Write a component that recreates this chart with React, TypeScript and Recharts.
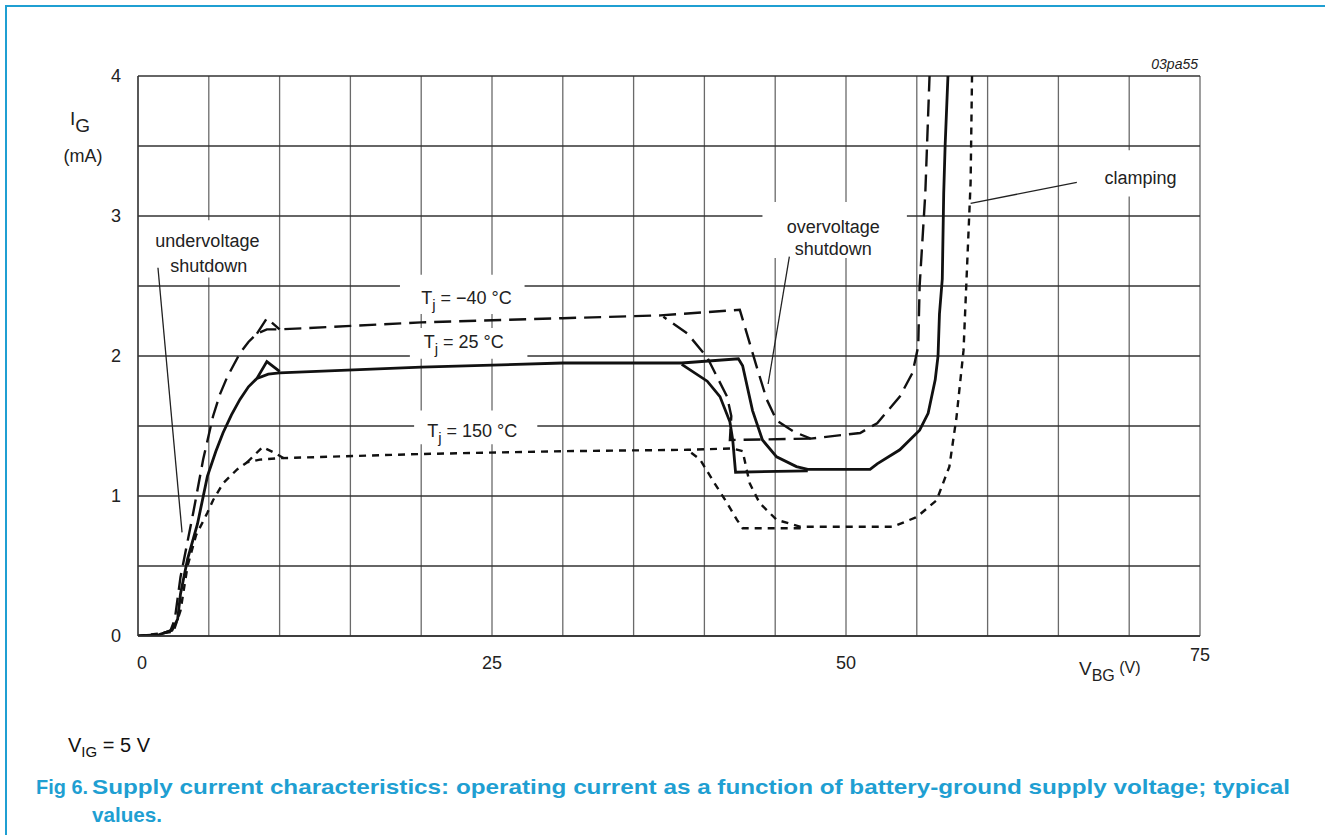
import React from 'react';
import {
  LineChart, Line, XAxis, YAxis, CartesianGrid, ReferenceArea, ReferenceLine, ReferenceDot,
} from 'recharts';

// [V_BG (V), I_G (mA)]
const t25Main = [
  [0, 0], [1.5, 0.01], [2.4, 0.04], [2.8, 0.12], [3.0, 0.3], [3.5, 0.55], [4.2, 0.8], [4.9, 1.14],
  [5.5, 1.32], [6.0, 1.45], [6.6, 1.58], [7.2, 1.69], [7.8, 1.78], [8.4, 1.84], [9.2, 1.87], [10, 1.88],
  [20, 1.92], [30, 1.95], [38.4, 1.95], [42.4, 1.98], [42.7, 1.93], [43.4, 1.61], [44.1, 1.4],
  [45.1, 1.28], [46.5, 1.21], [47.3, 1.19], [51.7, 1.19], [52.2, 1.23], [53.8, 1.33], [55.2, 1.47],
  [55.8, 1.59], [56.3, 1.83], [56.5, 2.0], [56.6, 2.3], [56.8, 2.55], [56.9, 3.16], [57.0, 3.5], [57.2, 4.0],
];
const t25Back = [[47.3, 1.18], [42.2, 1.17], [42.0, 1.4], [41.8, 1.53], [41.1, 1.71], [40.2, 1.82], [38.4, 1.94]];
const t25Peak = [[8.4, 1.84], [9.1, 1.96], [10, 1.89]];

const tm40Main = [
  [0, 0], [1.5, 0.01], [2.3, 0.04], [2.6, 0.12], [3.0, 0.42], [3.9, 0.88], [4.6, 1.26], [5.3, 1.57],
  [5.8, 1.73], [6.3, 1.85], [7.2, 2.02], [7.8, 2.1], [8.4, 2.16], [9.1, 2.19], [10, 2.19], [20, 2.24],
  [30, 2.27], [36.9, 2.29], [42.5, 2.33], [43.0, 2.16], [43.7, 1.92], [44.4, 1.69], [45.1, 1.54],
  [46.3, 1.46], [47.5, 1.41], [51.0, 1.45], [52.2, 1.52], [53.8, 1.71], [54.7, 1.88], [55.1, 2.07],
  [55.2, 2.5], [55.6, 3.16], [55.9, 4.0],
];
const tm40Back = [[47.5, 1.41], [41.8, 1.4], [41.9, 1.57], [41.6, 1.71], [40.2, 1.99], [38.8, 2.16], [37.1, 2.28]];
const tm40Peak = [[8.4, 2.16], [9.1, 2.27], [10, 2.19]];

const t150Main = [
  [0, 0], [2.5, 0.03], [3.0, 0.18], [3.5, 0.5], [4.1, 0.72], [4.9, 0.88], [5.3, 0.97], [6.0, 1.09],
  [7.0, 1.19], [7.7, 1.24], [8.6, 1.26], [10, 1.27], [20, 1.3], [30, 1.32], [38.8, 1.33],
  [42.0, 1.34], [42.7, 1.32], [43.2, 1.09], [43.9, 0.95], [45.1, 0.83], [46.8, 0.78], [53.3, 0.78],
  [55.0, 0.85], [56.4, 0.97], [57.3, 1.21], [57.8, 1.56], [58.3, 2.04], [58.5, 2.52], [58.8, 3.24],
  [58.9, 4.0],
];
const t150Back = [[46.8, 0.77], [42.7, 0.77], [42.3, 0.83], [41.6, 0.95], [40.6, 1.11], [39.7, 1.26], [38.8, 1.33]];
const t150Peak = [[7.7, 1.24], [8.8, 1.35], [9.6, 1.31], [10.3, 1.27]];

const xTicks = [0, 5, 10, 15, 20, 25, 30, 35, 40, 45, 50, 55, 60, 65, 70, 75];
const xLabels = [0, 25, 50, 75];
const yTicks = [0, 0.5, 1, 1.5, 2, 2.5, 3, 3.5, 4];
const yLabels = [0, 1, 2, 3, 4];

const pts = (a: number[][]) => a.map(([v, i]) => ({ v, i }));

const FONT = '"Liberation Sans", Arial, Helvetica, sans-serif';
const INK = '#222';
const TEAL = '#1f9fd2';

const XTick = (p: any) => {
  const val = p.payload.value;
  if (!xLabels.includes(val)) return null;
  const dy = val === 75 ? 23 : 31;
  const dx = val === 0 ? 4 : 0;
  return (
    <text x={p.x + dx} y={p.y + dy} textAnchor="middle" fontSize={18} fill={INK} fontFamily={FONT}>{val}</text>
  );
};

const YTick = (p: any) => {
  const val = p.payload.value;
  if (!yLabels.includes(val)) return null;
  return (
    <text x={p.x - 15} y={p.y} dy="0.35em" textAnchor="end" fontSize={18} fill={INK} fontFamily={FONT}>{val}</text>
  );
};

// text placed at a data point
const textAt = (content: React.ReactNode, anchor = 'middle') => (p: any) => (
  <text x={p.cx} y={p.cy} textAnchor={anchor} fontSize={18} fill={INK} fontFamily={FONT}>{content}</text>
);

const tj = (rest: string) => (
  <>
    <tspan>T</tspan>
    <tspan dy={6} fontSize={15}>j</tspan>
    <tspan dy={-6}>{rest}</tspan>
  </>
);

const boxes = [
  { x1: 1, x2: 9, y1: 2.56, y2: 2.97 },
  { x1: 18.5, x2: 27.3, y1: 2.3, y2: 2.58 },
  { x1: 19.2, x2: 27.5, y1: 1.98, y2: 2.2 },
  { x1: 19.5, x2: 28.2, y1: 1.37, y2: 1.61 },
  { x1: 44.1, x2: 54.3, y1: 2.7, y2: 3.1 },
  { x1: 67.2, x2: 74.3, y1: 3.14, y2: 3.47 },
];

const leaders = [
  [[1.41, 2.63], [3.11, 0.74]],
  [[46.0, 2.71], [44.5, 1.8]],
  [[66.3, 3.24], [58.8, 3.09]],
];

export default function App() {
  const solid = { stroke: '#111', strokeWidth: 2.8, dot: false, isAnimationActive: false, type: 'linear' as const };
  const dashed = { ...solid, strokeWidth: 2.4, strokeDasharray: '17 8' };
  const dotted = { ...solid, strokeWidth: 2.4, strokeDasharray: '7 6' };

  return (
    <div style={{ position: 'absolute', left: 0, top: 0, width: 1325, height: 835, background: '#fff', fontFamily: FONT, overflow: 'hidden' }}>
      <div style={{ position: 'absolute', left: 5, top: 5, width: 1325, height: 835, borderTop: `2px solid ${TEAL}`, borderLeft: `2px solid ${TEAL}` }} />
      <LineChart width={1325} height={835} margin={{ top: 76, right: 125, bottom: 169, left: 78 }} style={{ position: 'absolute', left: 0, top: 0 }}>
        <CartesianGrid horizontal={false} stroke="#6a6a6a" strokeWidth={1.3} />
        <CartesianGrid vertical={false} stroke="#333" strokeWidth={1.3} />
        {boxes.map((b, k) => (
          <ReferenceArea key={k} x1={b.x1} x2={b.x2} y1={b.y1} y2={b.y2} fill="#fff" fillOpacity={1} stroke="none" ifOverflow="visible" />
        ))}
        <XAxis type="number" dataKey="v" domain={[0, 75]} ticks={xTicks} tick={<XTick />} tickLine={false} tickSize={0} axisLine={{ stroke: '#333', strokeWidth: 1.5 }} height={30} allowDataOverflow />
        <YAxis type="number" dataKey="i" domain={[0, 4]} ticks={yTicks} tick={<YTick />} tickLine={false} tickSize={0} axisLine={{ stroke: '#333', strokeWidth: 1.3 }} width={60} allowDataOverflow />
        <Line data={pts(tm40Main)} dataKey="i" {...dashed} />
        <Line data={pts(tm40Back)} dataKey="i" {...dashed} />
        <Line data={pts(tm40Peak)} dataKey="i" {...dashed} />
        <Line data={pts(t25Main)} dataKey="i" {...solid} />
        <Line data={pts(t25Back)} dataKey="i" {...solid} />
        <Line data={pts(t25Peak)} dataKey="i" {...solid} />
        <Line data={pts(t150Main)} dataKey="i" {...dotted} />
        <Line data={pts(t150Back)} dataKey="i" {...dotted} />
        <Line data={pts(t150Peak)} dataKey="i" {...dotted} />
        {leaders.map((s, k) => (
          <ReferenceLine key={k} segment={[{ x: s[0][0], y: s[0][1] }, { x: s[1][0], y: s[1][1] }]} stroke="#222" strokeWidth={1.3} ifOverflow="visible" />
        ))}
        <ReferenceDot x={4.9} y={2.78} r={0} ifOverflow="visible" shape={textAt('undervoltage')} />
        <ReferenceDot x={5.0} y={2.6} r={0} ifOverflow="visible" shape={textAt('shutdown')} />
        <ReferenceDot x={23.2} y={2.37} r={0} ifOverflow="visible" shape={textAt(tj(' = \u221240 \u00B0C'))} />
        <ReferenceDot x={23.0} y={2.06} r={0} ifOverflow="visible" shape={textAt(tj(' = 25 \u00B0C'))} />
        <ReferenceDot x={23.6} y={1.42} r={0} ifOverflow="visible" shape={textAt(tj(' = 150 \u00B0C'))} />
        <ReferenceDot x={49.1} y={2.88} r={0} ifOverflow="visible" shape={textAt('overvoltage')} />
        <ReferenceDot x={49.1} y={2.72} r={0} ifOverflow="visible" shape={textAt('shutdown')} />
        <ReferenceDot x={70.8} y={3.23} r={0} ifOverflow="visible" shape={textAt('clamping')} />
      </LineChart>
      <svg width={1325} height={835} style={{ position: 'absolute', left: 0, top: 0, pointerEvents: 'none' }} fontFamily={FONT}>
        <text x={1198} y={69} textAnchor="end" fontSize={14} fontStyle="italic" fill={INK}>03pa55</text>
        <text x={70} y={125} fontSize={19} fill={INK}>
          <tspan>I</tspan><tspan dy={7} fontSize={19}>G</tspan>
        </text>
        <text x={83} y={162} textAnchor="middle" fontSize={18} fill={INK}>(mA)</text>
        <text x={1079} y={675} fontSize={19} fill={INK}>
          <tspan>V</tspan><tspan dy={6} fontSize={16}>BG</tspan><tspan dy={-8} fontSize={16}> (V)</tspan>
        </text>
        <text x={68} y={752} fontSize={20} fill="#111">
          <tspan>V</tspan><tspan dy={5} fontSize={15}>IG</tspan><tspan dy={-5}> = 5 V</tspan>
        </text>
        <text x={36} y={794} fontSize={21} fontWeight="bold" fill={TEAL} textLength={52} lengthAdjust="spacingAndGlyphs">Fig 6.</text>
        <text x={92} y={794} fontSize={21} fontWeight="bold" fill={TEAL} textLength={1198} lengthAdjust="spacingAndGlyphs">
          Supply current characteristics: operating current as a function of battery-ground supply voltage; typical
        </text>
        <text x={92} y={822} fontSize={21} fontWeight="bold" fill={TEAL} textLength={70} lengthAdjust="spacingAndGlyphs">values.</text>
      </svg>
    </div>
  );
}
